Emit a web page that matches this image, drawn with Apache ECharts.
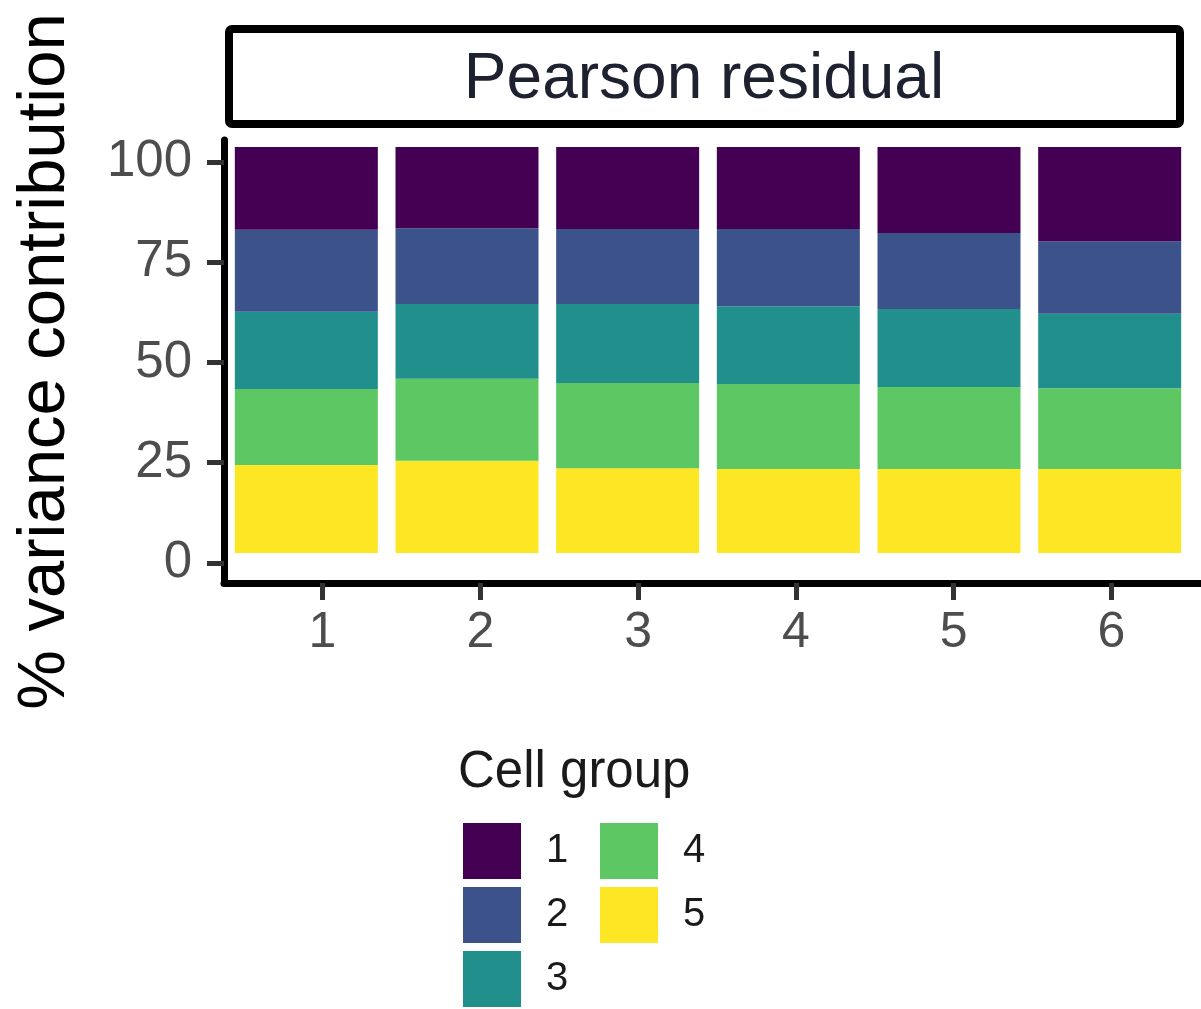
<!DOCTYPE html>
<html>
<head>
<meta charset="utf-8">
<title>Pearson residual</title>
<script src="https://cdn.jsdelivr.net/npm/echarts@6/dist/echarts.min.js"></script>
<style>
  html, body { margin: 0; padding: 0; background: #fff; }
  #chart { width: 1201px; height: 1009px; }
</style>
</head>
<body>
<div id="chart"></div>
<script>
// components on the x axis
var components = ['1', '2', '3', '4', '5', '6'];
// % variance contribution of each cell group, per component
var group1 = [20.4, 20.0, 20.2, 20.2, 21.2, 23.2];
var group2 = [20.2, 18.7, 18.5, 19.0, 18.7, 17.9];
var group3 = [19.0, 18.4, 19.4, 19.2, 19.2, 18.3];
var group4 = [18.7, 20.2, 21.0, 20.9, 20.2, 19.9];
var group5 = [21.7, 22.7, 20.9, 20.7, 20.7, 20.7];
var groupNames = ['1', '2', '3', '4', '5'];
var xTicks = [1, 2, 3, 4, 5, 6];
var yTicks = [0, 25, 50, 75, 100];

var viridis = ['#440154', '#3b528b', '#21908c', '#5dc863', '#fde725'];
var font = 'Liberation Sans, Arial, sans-serif';

var myChart = echarts.init(document.getElementById('chart'));

// yellow at the bottom, purple on top
var stackOrder = [
  { name: '5', data: group5, color: viridis[4] },
  { name: '4', data: group4, color: viridis[3] },
  { name: '3', data: group3, color: viridis[2] },
  { name: '2', data: group2, color: viridis[1] },
  { name: '1', data: group1, color: viridis[0] }
];

var series = stackOrder.map(function (s) {
  return {
    name: s.name,
    type: 'bar',
    stack: 'total',
    xAxisIndex: 1,
    yAxisIndex: 1,
    barWidth: 143,
    data: s.data,
    itemStyle: { color: s.color, borderWidth: 0 }
  };
});

var legendCommon = {
  orient: 'vertical',
  top: 823,
  height: 186,
  padding: 0,
  itemWidth: 58,
  itemHeight: 56,
  itemGap: 8,
  icon: 'rect',
  selectedMode: false,
  textStyle: { fontSize: 40, color: '#1a1a1a', fontFamily: font, padding: [0, 0, 0, 20] }
};

myChart.setOption({
  backgroundColor: '#fff',
  animation: false,
  title: {
    text: 'Cell group',
    left: 458,
    top: 747,
    padding: 0,
    textStyle: { fontSize: 51, fontWeight: 'normal', color: '#1a1a1a', fontFamily: font }
  },
  legend: [
    Object.assign({ left: 463, data: groupNames.slice(0, 3) }, legendCommon),
    Object.assign({ left: 600, data: groupNames.slice(3) }, legendCommon)
  ],
  grid: [
    // panel with the visible axes
    { left: 224, top: 140, right: 0, bottom: 426, containLabel: false },
    // area the bars are drawn in
    { left: 226, top: 147, right: 11, bottom: 456, containLabel: false }
  ],
  xAxis: [
    {
      gridIndex: 0,
      type: 'value',
      min: 0.376,
      max: 6.567,
      axisLine: { show: true, onZero: false, lineStyle: { color: '#000', width: 7 } },
      axisTick: { show: true, length: 17, customValues: xTicks, lineStyle: { color: '#333', width: 5 } },
      axisLabel: { customValues: xTicks, fontSize: 50, color: '#4d4d4d', margin: 25, fontFamily: font },
      splitLine: { show: false }
    },
    {
      gridIndex: 1,
      type: 'category',
      data: components,
      show: false
    }
  ],
  yAxis: [
    {
      gridIndex: 0,
      type: 'value',
      min: -5,
      max: 105.5,
      name: '% variance contribution',
      nameLocation: 'middle',
      nameRotate: 90,
      nameGap: 145,
      nameTextStyle: { fontSize: 67, color: '#000', fontFamily: font },
      axisLine: { show: true, onZero: false, lineStyle: { color: '#000', width: 7 } },
      axisTick: { show: true, length: 17, customValues: yTicks, lineStyle: { color: '#333', width: 5 } },
      axisLabel: { customValues: yTicks, fontSize: 51, color: '#4d4d4d', margin: 32, fontFamily: font },
      splitLine: { show: false }
    },
    {
      gridIndex: 1,
      type: 'value',
      min: 0,
      max: 100,
      show: false,
      splitLine: { show: false }
    }
  ],
  graphic: [
    {
      type: 'rect',
      shape: { x: 229, y: 29, width: 951, height: 95, r: 3 },
      style: { fill: '#fff', stroke: '#000', lineWidth: 8 },
      silent: true
    },
    {
      type: 'text',
      x: 704,
      y: 80,
      style: {
        text: 'Pearson residual',
        fontSize: 64,
        fontFamily: font,
        fill: '#1e2130',
        textAlign: 'center',
        textVerticalAlign: 'middle'
      },
      silent: true
    }
  ],
  series: series
});
</script>
</body>
</html>
